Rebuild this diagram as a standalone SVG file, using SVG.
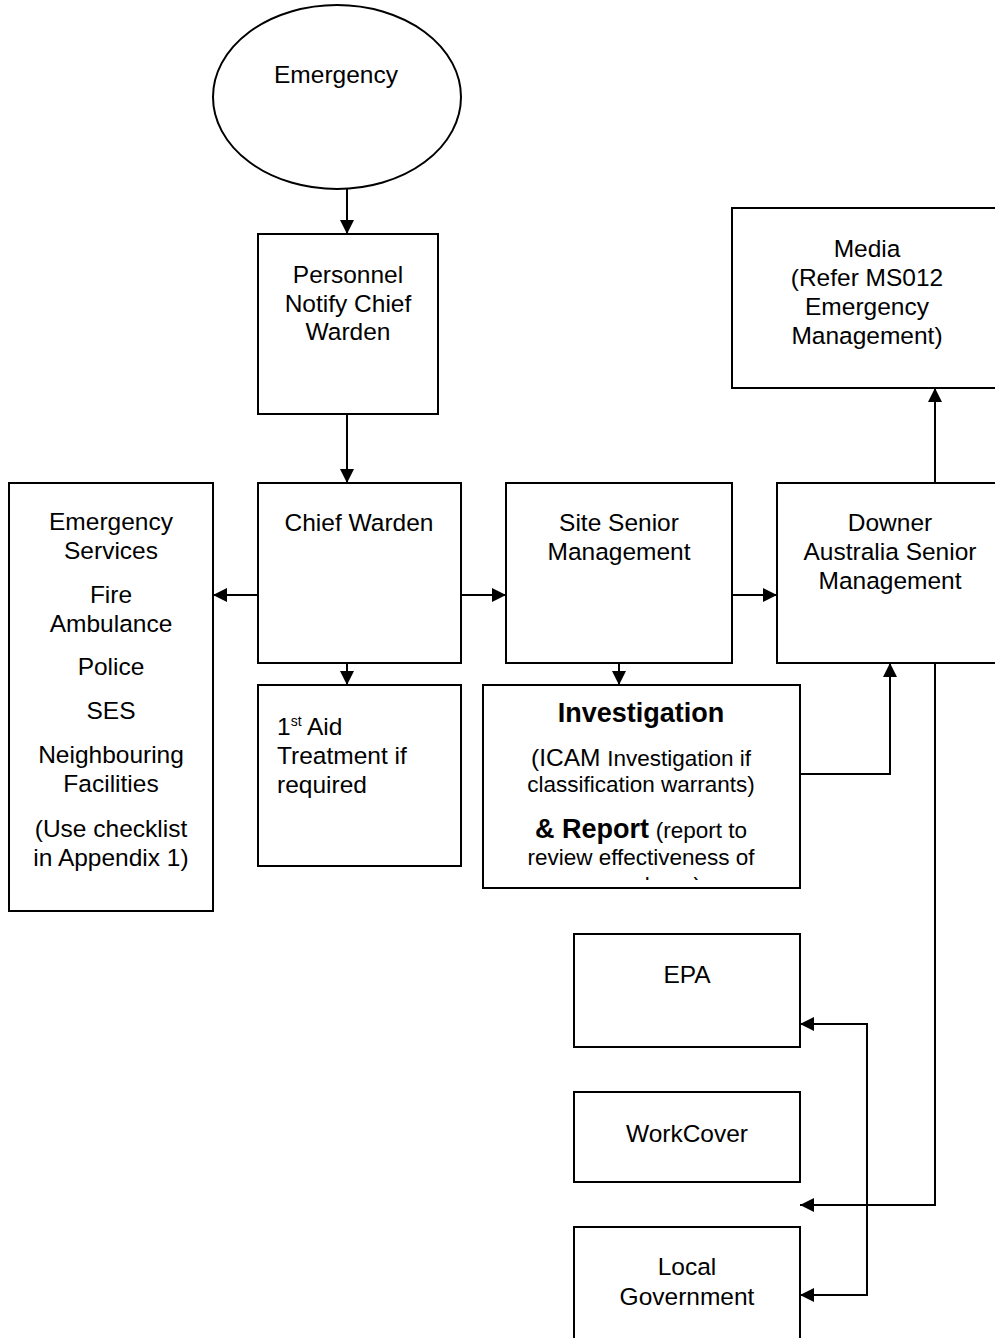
<svg xmlns="http://www.w3.org/2000/svg" width="995" height="1338" viewBox="0 0 995 1338">
  <style>
    .box { fill: #ffffff; stroke: #000000; stroke-width: 2; }
    .t { font-family: "Liberation Sans", Arial, sans-serif; font-size: 24.5px; fill: #000000; text-anchor: middle; }
    .tl { font-family: "Liberation Sans", Arial, sans-serif; font-size: 24.5px; fill: #000000; }
    .b { font-weight: bold; font-size: 27px; }
    .s { font-size: 22.5px; }
    .conn { fill: none; stroke: #000000; stroke-width: 2; }
  </style>
  <defs>
    <marker id="arrow" viewBox="0 0 14 14" refX="14" refY="7" markerWidth="14" markerHeight="14" markerUnits="userSpaceOnUse" orient="auto-start-reverse">
      <path d="M0,0 L14,7 L0,14 Z" fill="#000000"/>
    </marker>
    <clipPath id="invClip">
      <rect x="483" y="685" width="317" height="195"/>
    </clipPath>
  </defs>
  <rect x="0" y="0" width="995" height="1338" fill="#ffffff"/>

  <g id="connectors">
    <path class="conn" d="M347,189 L347,234" marker-end="url(#arrow)"/>
    <path class="conn" d="M347,414 L347,483" marker-end="url(#arrow)"/>
    <path class="conn" d="M258,595 L213,595" marker-end="url(#arrow)"/>
    <path class="conn" d="M461,595 L506,595" marker-end="url(#arrow)"/>
    <path class="conn" d="M732,595 L777,595" marker-end="url(#arrow)"/>
    <path class="conn" d="M347,663 L347,685" marker-end="url(#arrow)"/>
    <path class="conn" d="M619,663 L619,685" marker-end="url(#arrow)"/>
    <path class="conn" d="M800,774 L890,774 L890,663" marker-end="url(#arrow)"/>
    <path class="conn" d="M935,483 L935,388" marker-end="url(#arrow)"/>
    <path class="conn" d="M935,663 L935,1205 L800,1205" marker-end="url(#arrow)"/>
    <path class="conn" d="M800,1024 L867,1024 L867,1295 L800,1295" marker-start="url(#arrow)" marker-end="url(#arrow)"/>
  </g>

  <g id="emergency">
    <ellipse class="box" cx="337" cy="97" rx="124" ry="92"/>
    <text class="t" x="336" y="83">Emergency</text>
  </g>

  <g id="personnel">
    <rect class="box" x="258" y="234" width="180" height="180"/>
    <text class="t" x="348" y="283">Personnel</text>
    <text class="t" x="348" y="312">Notify Chief</text>
    <text class="t" x="348" y="340">Warden</text>
  </g>

  <g id="chief-warden">
    <rect class="box" x="258" y="483" width="203" height="180"/>
    <text class="t" x="359" y="531">Chief Warden</text>
  </g>

  <g id="emergency-services">
    <rect class="box" x="9" y="483" width="204" height="428"/>
    <text class="t" x="111" y="530">Emergency</text>
    <text class="t" x="111" y="559">Services</text>
    <text class="t" x="111" y="603">Fire</text>
    <text class="t" x="111" y="632">Ambulance</text>
    <text class="t" x="111" y="675">Police</text>
    <text class="t" x="111" y="719">SES</text>
    <text class="t" x="111" y="763">Neighbouring</text>
    <text class="t" x="111" y="792">Facilities</text>
    <text class="t" x="111" y="837">(Use checklist</text>
    <text class="t" x="111" y="866">in Appendix 1)</text>
  </g>

  <g id="site-senior">
    <rect class="box" x="506" y="483" width="226" height="180"/>
    <text class="t" x="619" y="531">Site Senior</text>
    <text class="t" x="619" y="560">Management</text>
  </g>

  <g id="downer">
    <rect class="box" x="777" y="483" width="230" height="180"/>
    <text class="t" x="890" y="531">Downer</text>
    <text class="t" x="890" y="560">Australia Senior</text>
    <text class="t" x="890" y="589">Management</text>
  </g>

  <g id="media">
    <rect class="box" x="732" y="208" width="275" height="180"/>
    <text class="t" x="867" y="257">Media</text>
    <text class="t" x="867" y="286">(Refer MS012</text>
    <text class="t" x="867" y="315">Emergency</text>
    <text class="t" x="867" y="344">Management)</text>
  </g>

  <g id="first-aid">
    <rect class="box" x="258" y="685" width="203" height="181"/>
    <text class="tl" x="277" y="735">1<tspan font-size="14" dy="-9">st</tspan><tspan dy="9"> Aid</tspan></text>
    <text class="tl" x="277" y="764">Treatment if</text>
    <text class="tl" x="277" y="793">required</text>
  </g>

  <g id="investigation">
    <rect class="box" x="483" y="685" width="317" height="203"/>
    <g clip-path="url(#invClip)">
      <text class="t b" x="641" y="722">Investigation</text>
      <text class="t" x="641" y="766">(ICAM <tspan class="s">Investigation if</tspan></text>
      <text class="t s" x="641" y="792">classification warrants)</text>
      <text class="t" x="641" y="838"><tspan class="b">&amp; Report</tspan> <tspan class="s">(report to</tspan></text>
      <text class="t s" x="641" y="865">review effectiveness of</text>
      <text class="t s" x="641" y="893">procedures)</text>
    </g>
  </g>

  <g id="epa">
    <rect class="box" x="574" y="934" width="226" height="113"/>
    <text class="t" x="687" y="983">EPA</text>
  </g>

  <g id="workcover">
    <rect class="box" x="574" y="1092" width="226" height="90"/>
    <text class="t" x="687" y="1142">WorkCover</text>
  </g>

  <g id="local-government">
    <rect class="box" x="574" y="1227" width="226" height="130"/>
    <text class="t" x="687" y="1275">Local</text>
    <text class="t" x="687" y="1305">Government</text>
  </g>
</svg>
